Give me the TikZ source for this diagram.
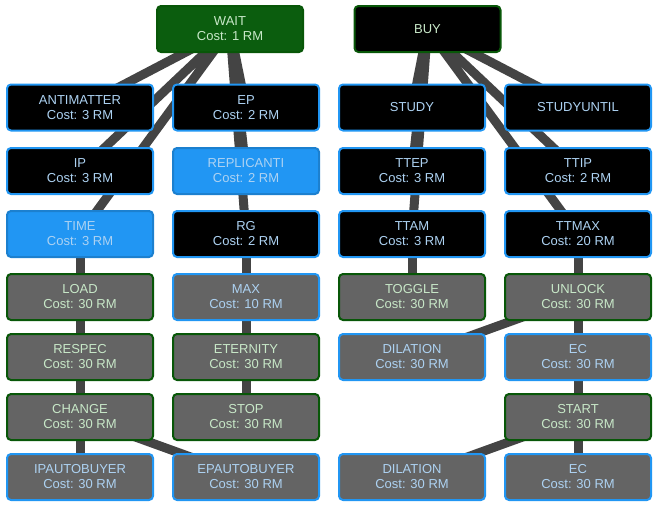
\documentclass[tikz,border=0pt]{standalone}
\usepackage{fontspec}
\setmainfont{Liberation Sans}
\usetikzlibrary{backgrounds}
\definecolor{rootgreen}{HTML}{0B5D0E}
\definecolor{framegreen}{HTML}{085708}
\definecolor{primary}{HTML}{2196F3}
\definecolor{boxgray}{HTML}{646464}
\definecolor{linkgray}{HTML}{444444}
\definecolor{textgreen}{HTML}{C8E8C8}
\definecolor{textblue}{HTML}{ADD2F2}

\begin{document}
\begin{tikzpicture}[x=1pt, y=-1pt,
      cmd/.style={rounded corners=4pt, draw, line width=2pt, align=center, inner sep=0pt,
                  minimum width=146pt, minimum height=46pt, font=\fontsize{13}{15}\selectfont},
      rootcmd/.style={cmd, fill=rootgreen, draw=framegreen, text=textgreen},
      rootdark/.style={cmd, fill=black, draw=framegreen, text=textgreen},
      locked/.style={cmd, fill=black, draw=primary, text=textblue},
      open/.style={cmd, fill=primary, draw=primary!85!black, text=textblue},
      bought/.style={cmd, fill=boxgray, draw=framegreen, text=textgreen},
      buyable/.style={cmd, fill=boxgray, draw=primary, text=textblue},
      link/.style={line width=9pt, draw=linkgray}
    ]
      \useasboundingbox (0,0) rectangle (656,506);

      % roots
      \node[rootcmd] (wait) at (230,29) {WAIT\\Cost: 1 RM};
      \node[rootdark] (buy) at (427.5,29) {BUY};

      % first column
      \node[locked] (antimatter) at (80,107.5) {ANTIMATTER\\Cost: 3 RM};
      \node[locked] (ip) at (80,171) {IP\\Cost: 3 RM};
      \node[open] (time) at (80,234) {TIME\\Cost: 3 RM};
      \node[bought] (load) at (80,297) {LOAD\\Cost: 30 RM};
      \node[bought] (respec) at (80,357) {RESPEC\\Cost: 30 RM};
      \node[bought] (change) at (80,417) {CHANGE\\Cost: 30 RM};
      \node[buyable] (ipautobuyer) at (80,477) {IPAUTOBUYER\\Cost: 30 RM};

      % second column
      \node[locked] (ep) at (246,107.5) {EP\\Cost: 2 RM};
      \node[open] (replicanti) at (246,171) {REPLICANTI\\Cost: 2 RM};
      \node[locked] (rg) at (246,234) {RG\\Cost: 2 RM};
      \node[buyable] (max) at (246,297) {MAX\\Cost: 10 RM};
      \node[bought] (eternity) at (246,357) {ETERNITY\\Cost: 30 RM};
      \node[bought] (stop) at (246,417) {STOP\\Cost: 30 RM};
      \node[buyable] (epautobuyer) at (246,477) {EPAUTOBUYER\\Cost: 30 RM};

      % third column
      \node[locked] (study) at (412,107.5) {STUDY};
      \node[locked] (ttep) at (412,171) {TTEP\\Cost: 3 RM};
      \node[locked] (ttam) at (412,234) {TTAM\\Cost: 3 RM};
      \node[bought] (toggle) at (412,297) {TOGGLE\\Cost: 30 RM};
      \node[buyable] (dilationa) at (412,357) {DILATION\\Cost: 30 RM};
      \node[buyable] (dilationb) at (412,477) {DILATION\\Cost: 30 RM};

      % fourth column
      \node[locked] (studyuntil) at (578,107.5) {STUDYUNTIL};
      \node[locked] (ttip) at (578,171) {TTIP\\Cost: 2 RM};
      \node[locked] (ttmax) at (578,234) {TTMAX\\Cost: 20 RM};
      \node[bought] (unlock) at (578,297) {UNLOCK\\Cost: 30 RM};
      \node[buyable] (eca) at (578,357) {EC\\Cost: 30 RM};
      \node[bought] (start) at (578,417) {START\\Cost: 30 RM};
      \node[buyable] (ecb) at (578,477) {EC\\Cost: 30 RM};

      % links run centre to centre, behind the boxes
      \begin{scope}[on background layer]
        \draw[link] (wait.center) -- (antimatter.center) (wait.center) -- (ip.center)
                    (wait.center) -- (time.center);
        \draw[link] (wait.center) -- (ep.center) (wait.center) -- (replicanti.center)
                    (wait.center) -- (rg.center);
        \draw[link] (time.center) -- (load.center) -- (respec.center) -- (change.center)
                    -- (ipautobuyer.center);
        \draw[link] (change.center) -- (epautobuyer.center);
        \draw[link] (rg.center) -- (max.center) -- (eternity.center) -- (stop.center);
        \draw[link] (buy.center) -- (study.center) (buy.center) -- (ttep.center)
                    (buy.center) -- (ttam.center);
        \draw[link] (buy.center) -- (studyuntil.center) (buy.center) -- (ttip.center)
                    (buy.center) -- (ttmax.center);
        \draw[link] (ttam.center) -- (toggle.center);
        \draw[link] (ttmax.center) -- (unlock.center) -- (eca.center) -- (start.center)
                    -- (ecb.center);
        \draw[link] (unlock.center) -- (dilationa.center);
        \draw[link] (start.center) -- (dilationb.center);
      \end{scope}
    \end{tikzpicture}
\end{document}
